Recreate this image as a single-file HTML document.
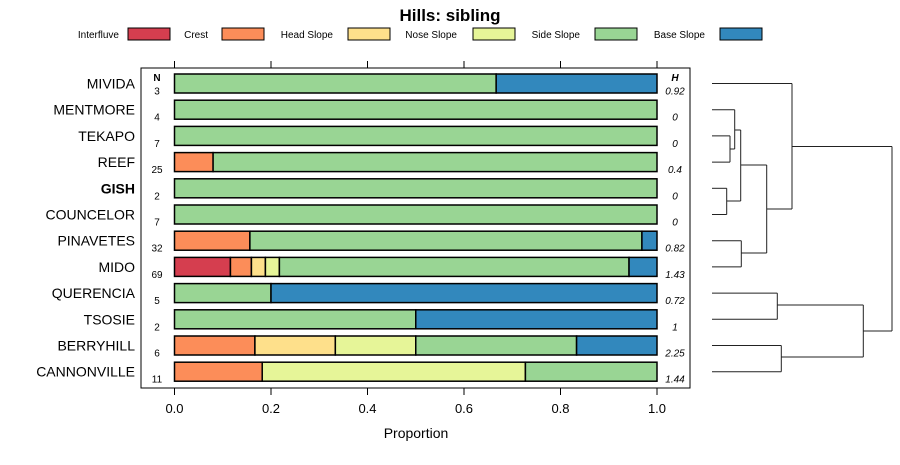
<!DOCTYPE html>
<html><head><meta charset="utf-8"><style>
body{margin:0;background:#fff;}
svg{font-family:"Liberation Sans",sans-serif;}
</style></head><body>
<svg id="c" width="900" height="460" xmlns="http://www.w3.org/2000/svg"></svg>
<script>
const categories=["MIVIDA","MENTMORE","TEKAPO","REEF","GISH","COUNCELOR","PINAVETES","MIDO","QUERENCIA","TSOSIE","BERRYHILL","CANNONVILLE"];
const seriesNames=["Interfluve","Crest","Head Slope","Nose Slope","Side Slope","Base Slope"];
const seriesColors=["#D53E4F","#FC8D59","#FEE08B","#E6F598","#99D594","#3288BD"];
const interfluve=[0,0,0,0,0,0,0,8/69,0,0,0,0];
const crest=[0,0,0,2/25,0,0,5/32,3/69,0,0,1/6,2/11];
const headSlope=[0,0,0,0,0,0,0,2/69,0,0,1/6,0];
const noseSlope=[0,0,0,0,0,0,0,2/69,0,0,1/6,6/11];
const sideSlope=[2/3,1,1,23/25,1,1,26/32,50/69,0.2,0.5,2/6,3/11];
const baseSlope=[1/3,0,0,0,0,0,1/32,4/69,0.8,0.5,1/6,0];
const nValues=["3","4","7","25","2","7","32","69","5","2","6","11"];
const hValues=["0.92","0","0","0.4","0","0","0.82","1.43","0.72","1","2.25","1.44"];
const xTicks=[0,0.2,0.4,0.6,0.8,1.0];
const xTickLabels=["0.0","0.2","0.4","0.6","0.8","1.0"];
const series=[interfluve,crest,headSlope,noseSlope,sideSlope,baseSlope];

const svg=document.getElementById('c');
const NS="http://www.w3.org/2000/svg";
function mk(tag,attrs,text){const e=document.createElementNS(NS,tag);for(const k in attrs)e.setAttribute(k,attrs[k]);if(text!==undefined)e.textContent=text;svg.appendChild(e);return e;}
const x=v=>174.5+v*482.5;
const y=i=>83.5+i*26.2;
const BH=19;

let t=mk('text',{x:450,y:21,'text-anchor':'middle','font-size':17,'font-weight':'bold'},'Hills: sibling');



// legend
const legTextEnd=[119,208,333,457,580,705];
const legBoxX=[128,222,348,473,595,720];
seriesNames.forEach((n,i)=>{
  let lt=mk('text',{x:legTextEnd[i],y:38,'text-anchor':'end','font-size':10,fill:'#000'},n);
  
  
  let lb=mk('rect',{x:legBoxX[i],y:28,width:42,height:12,fill:seriesColors[i],stroke:'#000','stroke-width':1});
  
  
});

// panel
let p=mk('rect',{x:141,y:68,width:549,height:320,fill:'none',stroke:'#000','stroke-width':1});



xTicks.forEach((v,i)=>{
  let a=mk('line',{x1:x(v),x2:x(v),y1:61,y2:68,stroke:'#000'});
  
  
  let b=mk('line',{x1:x(v),x2:x(v),y1:388,y2:395,stroke:'#000'});
  
  
  let l=mk('text',{x:x(v),y:413,'text-anchor':'middle','font-size':13},xTickLabels[i]);
  
  
});
t=mk('text',{x:416,y:438,'text-anchor':'middle','font-size':14},'Proportion');



t=mk('text',{x:157,y:81,'text-anchor':'middle','font-size':10,'font-weight':'bold'},'N');


t=mk('text',{x:675,y:81,'text-anchor':'middle','font-size':10,'font-weight':'bold','font-style':'italic'},'H');



categories.forEach((c,i)=>{
  const cy=y(i);
  let lab=mk('text',{x:135,y:cy+5,'text-anchor':'end','font-size':14,'font-weight':c==='GISH'?'bold':'normal'},c);
  
  
  let nt=mk('text',{x:157,y:cy+11,'text-anchor':'middle','font-size':10},nValues[i]);
  
  
  let ht=mk('text',{x:675,y:cy+11,'text-anchor':'middle','font-size':10,'font-style':'italic'},hValues[i]);
  
  
  let cum=0;
  series.forEach((s,j)=>{
    const v=s[i];
    if(v>0){
      let r=mk('rect',{x:x(cum),y:cy-BH/2,width:x(cum+v)-x(cum),height:BH,fill:seriesColors[j],stroke:'#000','stroke-width':1.5});
      
      
    }
    cum+=v;
  });
});

// dendrogram
const L=712;
const segs=[
 [L,y(2),730,y(2)],[L,y(3),730,y(3)],[730,y(2),730,y(3)],
 [L,y(1),734.7,y(1)],[730,149,734.7,149],[734.7,y(1),734.7,149],
 [L,y(4),726.7,y(4)],[L,y(5),726.7,y(5)],[726.7,y(4),726.7,y(5)],
 [734.7,130,740.7,130],[726.7,201,740.7,201],[740.7,130,740.7,201],
 [L,y(6),741.3,y(6)],[L,y(7),741.3,y(7)],[741.3,y(6),741.3,y(7)],
 [740.7,165,766.7,165],[741.3,253,766.7,253],[766.7,165,766.7,253],
 [L,y(0),792,y(0)],[766.7,209,792,209],[792,y(0),792,209],
 [L,y(8),777.3,y(8)],[L,y(9),777.3,y(9)],[777.3,y(8),777.3,y(9)],
 [L,y(10),781.3,y(10)],[L,y(11),781.3,y(11)],[781.3,y(10),781.3,y(11)],
 [777.3,305,863.3,305],[781.3,357,863.3,357],[863.3,305,863.3,357],
 [792,146.5,892,146.5],[863.3,331,892,331],[892,146.5,892,331]
];
segs.forEach(s=>{
  let l=mk('line',{x1:s[0],y1:s[1],x2:s[2],y2:s[3],stroke:'#222','stroke-width':1});
  
  
});
</script>
</body></html>
